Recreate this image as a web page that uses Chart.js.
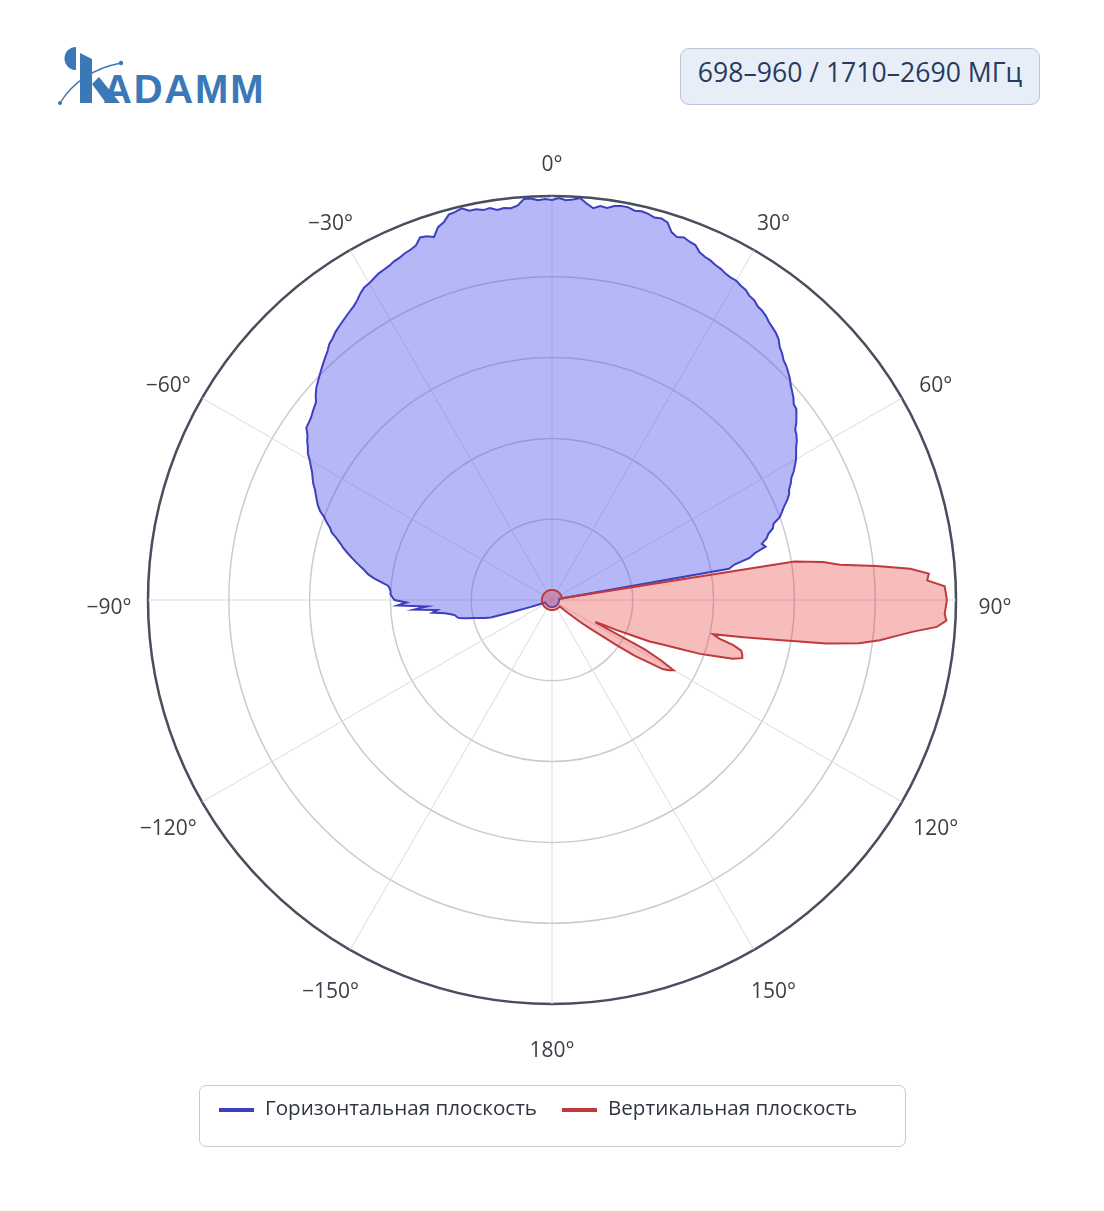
<!DOCTYPE html>
<html>
<head>
<meta charset="utf-8">
<style>
    html, body { margin: 0; padding: 0; background: #fff; }
    body { width: 1104px; height: 1211px; position: relative; overflow: hidden; font-family: "Open Sans", "Liberation Sans", sans-serif; }
    #patternChart { position: absolute; left: 0; top: 0; }
    .logo { position: absolute; left: 0; top: 0; }
    .band { position: absolute; left: 680px; top: 48px; width: 360px; height: 57px; box-sizing: border-box;
            border: 1.5px solid #b9c5d8; border-radius: 9px; background: #e8eef7; color: #263c5e;
            font-size: 26.6px; line-height: 46px; text-align: center; }
    .legend { position: absolute; left: 199px; top: 1085px; width: 707px; height: 62px; box-sizing: border-box;
              border: 1.5px solid #c4cad5; border-radius: 7px; }
    .legend-item { position: absolute; top: 9px; height: 24px; white-space: nowrap; }
    .legend-item .swatch { position: absolute; left: 0; top: 13px; width: 35px; height: 4px; }
    .legend-item .txt { position: absolute; left: 46px; top: 0; font-size: 20.6px; line-height: 24px; color: #2f3542; }
</style>
</head>
<body>

<svg class="logo" width="300" height="120" viewBox="0 0 300 120">
    <path d="M76 47 A11.5 11.5 0 0 0 76 70 Z" fill="#3b78b7"/>
    <path d="M80 53 L92 59 L92 103 L80 103 Z" fill="#3b78b7"/>
    <path d="M92 84 L99 77 L120 103 L106 103 Z" fill="#3b78b7"/>
    <path d="M60 103 Q80 71 121 63" stroke="#3b78b7" stroke-width="1.3" fill="none"/>
    <circle cx="60" cy="103" r="2" fill="#3b78b7"/>
    <circle cx="121" cy="63" r="2.2" fill="#3b78b7"/>
    <text x="103" y="103" font-family="Liberation Sans, Arial, sans-serif" font-weight="bold" font-size="40" letter-spacing="1.8" fill="#3b78b7">ADAMM</text>
</svg>

<div class="band">698–960 / 1710–2690 МГц</div>

<canvas id="patternChart" width="1104" height="1211"></canvas>

<div class="legend" id="legend"></div>

<script src="https://cdn.jsdelivr.net/npm/chart.js@4"></script>
<script>
    // series names / colours
    const seriesNames = ['Горизонтальная плоскость', 'Вертикальная плоскость'];
    const lineColors = ['#3d3fc0', '#c03a3c'];
    const fillColors = ['rgba(92,96,236,0.45)', 'rgba(232,70,70,0.36)'];

    // angular tick labels (degrees, clockwise from top)
    const tickAngles = [0, 30, 60, 90, 120, 150, 180, -150, -120, -90, -60, -30];
    const tickText = ['0°', '30°', '60°', '90°', '120°', '150°', '180°', '−150°', '−120°', '−90°', '−60°', '−30°'];

    // one category per degree, 0..359
    const angles = [];
    for (let a = 0; a < 360; a++) angles.push(a);

    // horizontal plane, dB, index = angle in degrees (0..359)
    const horizontalDb = [
        -0.4, -0.2, -0.4, -0.3, -0.1, -0.6, -1.0, -0.7, -0.8, -0.5,
        -0.4, -0.4, -0.6, -0.5, -0.6, -0.8, -0.7, -0.9, -1.7, -2.0,
        -1.8, -2.0, -2.1, -2.6, -2.8, -2.9, -3.1, -3.2, -3.4, -3.5,
        -3.5, -3.7, -3.8, -4.1, -4.2, -4.5, -4.6, -4.8, -5.1, -5.3,
        -5.5, -5.8, -6.3, -6.6, -7.0, -7.2, -7.5, -7.8, -8.2, -8.5,
        -8.8, -9.2, -9.3, -9.7, -10.1, -10.6, -10.8, -11.1, -11.5, -11.8,
        -12.1, -12.5, -12.9, -13.4, -13.7, -14.1, -14.3, -14.7, -15.2, -15.6,
        -16.0, -16.8, -17.0, -17.6, -17.9, -18.5, -18.2, -19.4, -20.0, -21.6,
        -22.2,
        // 81..249
        -39.3, -39.3, -39.3, -39.3, -39.3, -39.3, -39.3, -39.3, -39.3, -39.3, -39.3, -39.3, -39.3,
        -39.3, -39.3, -39.3, -39.3, -39.3, -39.3, -39.3, -39.3, -39.3, -39.3, -39.3, -39.3, -39.3,
        -39.3, -39.3, -39.3, -39.3, -39.3, -39.3, -39.3, -39.3, -39.3, -39.3, -39.3, -39.3, -39.3,
        -39.3, -39.3, -39.3, -39.3, -39.3, -39.3, -39.3, -39.3, -39.3, -39.3, -39.3, -39.3, -39.3,
        -39.3, -39.3, -39.3, -39.3, -39.3, -39.3, -39.3, -39.3, -39.3, -39.3, -39.3, -39.3, -39.3,
        -39.3, -39.3, -39.3, -39.3, -39.3, -39.3, -39.3, -39.3, -39.3, -39.3, -39.3, -39.3, -39.3,
        -39.3, -39.3, -39.3, -39.3, -39.3, -39.3, -39.3, -39.3, -39.3, -39.3, -39.3, -39.3, -39.3,
        -39.3, -39.3, -39.3, -39.3, -39.3, -39.3, -39.3, -39.3, -39.3, -39.3, -39.3, -39.3, -39.3,
        -39.3, -39.3, -39.3, -39.3, -39.3, -39.3, -39.3, -39.3, -39.3, -39.3, -39.3, -39.3, -39.3,
        -39.3, -39.3, -39.3, -39.3, -39.3, -39.3, -39.3, -39.3, -39.3, -39.3, -39.3, -39.3, -39.3,
        -39.3, -39.3, -39.3, -39.3, -39.3, -39.3, -39.3, -39.3, -39.3, -39.3, -39.3, -39.3, -39.3,
        -39.3, -39.3, -39.3, -39.3, -39.3, -39.3, -39.3, -39.3, -39.3, -39.3, -39.3, -39.3, -39.3,
        -39.3, -39.3, -39.3, -39.3, -39.3, -39.3, -39.3, -39.3, -39.3, -39.3, -39.3, -39.3, -39.3,
        // 250..359 (-110..-1)
        -39.3, -38.8, -37.8, -36.0, -33.7, -33.1, -32.6, -32.1, -31.3, -30.6,
        -30.4, -30.3, -29.9, -29.3, -28.1, -28.6, -26.3, -27.6, -24.7, -25.6,
        -24.4, -24.2, -24.0, -24.0, -23.9, -23.7, -23.0, -22.2, -21.6, -21.2,
        -20.7, -20.2, -19.7, -19.2, -18.7, -18.3, -17.8, -17.2, -16.9, -16.4,
        -16.0, -15.4, -15.0, -14.7, -14.4, -14.1, -13.7, -13.4, -13.1, -12.7,
        -12.3, -11.8, -11.5, -11.1, -10.8, -10.3, -10.2, -10.1, -9.9, -9.7,
        -9.5, -9.0, -8.6, -8.3, -8.0, -7.7, -7.4, -7.1, -6.8, -6.4,
        -6.2, -5.9, -5.7, -5.5, -5.3, -5.1, -4.9, -4.6, -4.2, -3.9,
        -3.8, -3.6, -3.4, -3.3, -3.2, -3.0, -2.9, -2.7, -2.6, -2.4,
        -1.8, -1.9, -2.2, -1.4, -1.1, -0.5, -0.4, -0.2, -0.6, -0.6,
        -0.8, -0.7, -1.0, -0.9, -1.0, -0.8, -0.2, -0.2, -0.4, -0.3
    ];

    // vertical plane, dB, index = angle in degrees (0..359)
    const verticalDb = [
        // 0..79
        -39.0, -39.0, -39.0, -39.0, -39.0, -39.0, -39.0, -39.0, -39.0, -39.0, -39.0, -39.0, -39.0, -39.0, -39.0, -39.0, -39.0, -39.0, -39.0, -39.0,
        -39.0, -39.0, -39.0, -39.0, -39.0, -39.0, -39.0, -39.0, -39.0, -39.0, -39.0, -39.0, -39.0, -39.0, -39.0, -39.0, -39.0, -39.0, -39.0, -39.0,
        -39.0, -39.0, -39.0, -39.0, -39.0, -39.0, -39.0, -39.0, -39.0, -39.0, -39.0, -39.0, -39.0, -39.0, -39.0, -39.0, -39.0, -39.0, -39.0, -39.0,
        -39.0, -39.0, -39.0, -39.0, -39.0, -39.0, -39.0, -39.0, -39.0, -39.0, -39.0, -39.0, -39.0, -39.0, -39.0, -39.0, -39.0, -39.0, -39.0, -39.0,
        // 80..129
        -39.0, -15.7, -12.9, -11.3, -7.7, -4.4, -2.6, -2.8, -1.1, -1.0,
        -0.9, -1.0, -1.1, -0.9, -1.8, -4.1, -5.8, -7.3, -9.3, -12.5,
        -17.2, -20.7, -23.7, -23.0, -21.5, -20.6, -20.4, -20.3, -21.2, -23.0,
        -24.4, -26.6, -28.3, -29.5, -31.6, -33.0, -34.6, -35.2, -29.6, -27.6,
        -26.1, -26.5, -27.1, -28.9, -30.1, -32.3, -34.3, -35.5, -36.5, -38.0,
        // 130..359
        -39.0, -39.0, -39.0, -39.0, -39.0, -39.0, -39.0, -39.0, -39.0, -39.0, -39.0, -39.0, -39.0, -39.0, -39.0, -39.0, -39.0, -39.0, -39.0, -39.0,
        -39.0, -39.0, -39.0, -39.0, -39.0, -39.0, -39.0, -39.0, -39.0, -39.0, -39.0, -39.0, -39.0, -39.0, -39.0, -39.0, -39.0, -39.0, -39.0, -39.0,
        -39.0, -39.0, -39.0, -39.0, -39.0, -39.0, -39.0, -39.0, -39.0, -39.0, -39.0, -39.0, -39.0, -39.0, -39.0, -39.0, -39.0, -39.0, -39.0, -39.0,
        -39.0, -39.0, -39.0, -39.0, -39.0, -39.0, -39.0, -39.0, -39.0, -39.0, -39.0, -39.0, -39.0, -39.0, -39.0, -39.0, -39.0, -39.0, -39.0, -39.0,
        -39.0, -39.0, -39.0, -39.0, -39.0, -39.0, -39.0, -39.0, -39.0, -39.0, -39.0, -39.0, -39.0, -39.0, -39.0, -39.0, -39.0, -39.0, -39.0, -39.0,
        -39.0, -39.0, -39.0, -39.0, -39.0, -39.0, -39.0, -39.0, -39.0, -39.0, -39.0, -39.0, -39.0, -39.0, -39.0, -39.0, -39.0, -39.0, -39.0, -39.0,
        -39.0, -39.0, -39.0, -39.0, -39.0, -39.0, -39.0, -39.0, -39.0, -39.0, -39.0, -39.0, -39.0, -39.0, -39.0, -39.0, -39.0, -39.0, -39.0, -39.0,
        -39.0, -39.0, -39.0, -39.0, -39.0, -39.0, -39.0, -39.0, -39.0, -39.0, -39.0, -39.0, -39.0, -39.0, -39.0, -39.0, -39.0, -39.0, -39.0, -39.0,
        -39.0, -39.0, -39.0, -39.0, -39.0, -39.0, -39.0, -39.0, -39.0, -39.0, -39.0, -39.0, -39.0, -39.0, -39.0, -39.0, -39.0, -39.0, -39.0, -39.0,
        -39.0, -39.0, -39.0, -39.0, -39.0, -39.0, -39.0, -39.0, -39.0, -39.0, -39.0, -39.0, -39.0, -39.0, -39.0, -39.0, -39.0, -39.0, -39.0, -39.0,
        -39.0, -39.0, -39.0, -39.0, -39.0, -39.0, -39.0, -39.0, -39.0, -39.0, -39.0, -39.0, -39.0, -39.0, -39.0, -39.0, -39.0, -39.0, -39.0, -39.0,
        -39.0, -39.0, -39.0, -39.0, -39.0, -39.0, -39.0, -39.0, -39.0, -39.0
    ];

    (() => {
        // angle labels drawn outside the outer ring
        const angleLabels = {
            id: 'angleLabels',
            afterDraw(chart) {
                const scale = chart.scales.r;
                const ctx = chart.ctx;
                ctx.save();
                ctx.font = '21px "Open Sans"';
                ctx.fillStyle = '#3b3f47';
                ctx.textAlign = 'center';
                ctx.textBaseline = 'middle';
                tickAngles.forEach((a, i) => {
                    const p = scale.getPointPosition((a + 360) % 360, scale.drawingArea + 39);
                    ctx.fillText(tickText[i], p.x, p.y + 8);
                });
                ctx.restore();
            }
        };

        const ctx = document.getElementById('patternChart').getContext('2d');
        new Chart(ctx, {
            type: 'radar',
            data: {
                labels: angles,
                datasets: [{
                    label: seriesNames[0],
                    data: horizontalDb,
                    borderColor: lineColors[0],
                    backgroundColor: fillColors[0],
                    borderWidth: 2,
                    fill: 'start',
                    pointRadius: 0,
                    order: 1
                }, {
                    label: seriesNames[1],
                    data: verticalDb,
                    borderColor: lineColors[1],
                    backgroundColor: fillColors[1],
                    borderWidth: 2,
                    fill: 'start',
                    pointRadius: 0,
                    order: 0
                }]
            },
            options: {
                responsive: false,
                animation: false,
                layout: { padding: { left: 148, right: 148, top: 196, bottom: 207 } },
                elements: { line: { tension: 0 } },
                plugins: {
                    legend: { display: false },
                    tooltip: { enabled: false }
                },
                scales: {
                    r: {
                        min: -40,
                        max: 0,
                        ticks: { display: false, stepSize: 8 },
                        grid: {
                            circular: true,
                            color: c => c.tick && c.tick.value === 0 ? '#474e5e' : '#c8cad5',
                            lineWidth: c => c.tick && c.tick.value === 0 ? 2.5 : 1.5
                        },
                        angleLines: {
                            color: c => c.index % 30 === 0 ? '#d9dae2' : 'rgba(0,0,0,0)',
                            lineWidth: c => c.index % 30 === 0 ? 1 : 0
                        },
                        pointLabels: { display: false }
                    }
                }
            },
            plugins: [angleLabels]
        });

        // legend
        const legend = document.getElementById('legend');
        const itemLeft = [19, 362];
        seriesNames.forEach((name, i) => {
            const item = document.createElement('div');
            item.className = 'legend-item';
            item.style.left = itemLeft[i] + 'px';
            item.innerHTML = '<span class="swatch" style="background:' + lineColors[i] + '"></span><span class="txt">' + name + '</span>';
            legend.appendChild(item);
        });
    })();
</script>
</body>
</html>
